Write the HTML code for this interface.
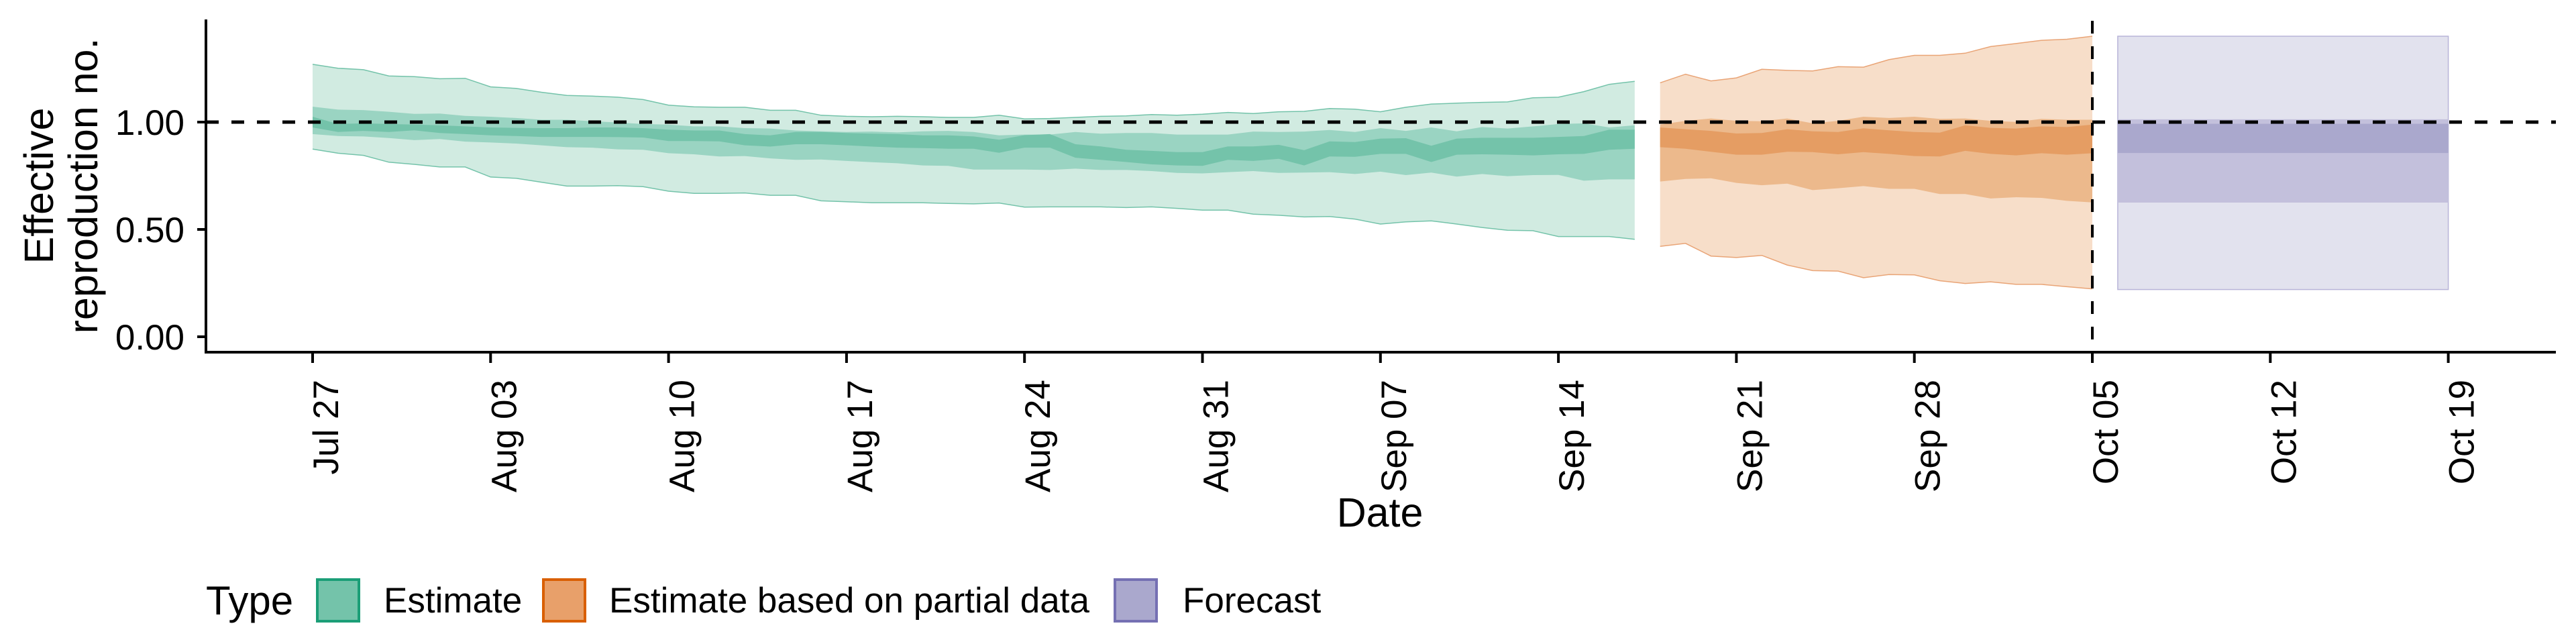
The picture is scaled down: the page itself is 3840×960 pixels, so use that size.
<!DOCTYPE html>
<html><head><meta charset="utf-8">
<style>
html,body{margin:0;padding:0;background:#fff;}
svg{display:block;font-family:"Liberation Sans",Arial,sans-serif;}
</style></head>
<body>
<svg id="chart" width="3840" height="960" viewBox="0 0 3840 960" xmlns="http://www.w3.org/2000/svg">
<g id="bands"></g>
<line x1="307" y1="182" x2="3810" y2="182" stroke="#000" stroke-width="5" stroke-dasharray="19,19"/>
<line x1="3119" y1="31" x2="3119" y2="525" stroke="#000" stroke-width="4" stroke-dasharray="19,19"/>
<line x1="307" y1="29" x2="307" y2="527" stroke="#000" stroke-width="4"/>
<line x1="305" y1="525" x2="3810" y2="525" stroke="#000" stroke-width="4"/>
<g id="yaxis"></g>
<g id="xaxis"></g>
<text transform="translate(79,277) rotate(-90)" text-anchor="middle" font-size="61">Effective</text>
<text transform="translate(145,277) rotate(-90)" text-anchor="middle" font-size="61">reproduction no.</text>
<text x="2057" y="785" text-anchor="middle" font-size="61">Date</text>
<g>
<text x="307" y="916" font-size="60">Type</text>
<rect x="473" y="864" width="62" height="62" fill="#74c3aa" stroke="#1b9e77" stroke-width="4"/>
<text x="572" y="913" font-size="53">Estimate</text>
<rect x="810" y="864" width="62" height="62" fill="#e8a06a" stroke="#d95f02" stroke-width="4"/>
<text x="908" y="913" font-size="53">Estimate based on partial data</text>
<rect x="1662" y="864" width="62" height="62" fill="#aaa8cd" stroke="#7570b3" stroke-width="4"/>
<text x="1763" y="913" font-size="53">Forecast</text>
</g>
</svg>
<script>
// ---- data ----
const tickLabels = ["Jul 27","Aug 03","Aug 10","Aug 17","Aug 24","Aug 31","Sep 07","Sep 14","Sep 21","Sep 28","Oct 05","Oct 12","Oct 19"];
const tickDays = [0,7,14,21,28,35,42,49,56,63,70,77,84];
const yTicks = [0,0.5,1.0];
const yTickLabels = ["0.00","0.50","1.00"];
const estStartDay = 0;
const gOuterHi = [1.269,1.251,1.244,1.215,1.212,1.202,1.204,1.164,1.157,1.139,1.124,1.121,1.116,1.105,1.079,1.071,1.069,1.069,1.055,1.055,1.032,1.027,1.025,1.027,1.025,1.022,
 1.022,1.032,1.015,1.017,1.022,1.027,1.029,1.035,1.032,1.037,1.045,1.040,1.048,1.050,1.063,1.060,1.048,1.069,1.084,1.088,1.092,1.094,1.113,1.116,1.142,1.176,1.190];
const gOuterLo = [0.874,0.855,0.845,0.813,0.803,0.791,0.791,0.744,0.738,0.720,0.702,0.702,0.704,0.699,0.678,0.668,0.668,0.670,0.659,0.659,0.633,0.629,0.624,0.624,0.624,0.621,
 0.619,0.623,0.604,0.605,0.605,0.605,0.602,0.605,0.598,0.590,0.590,0.571,0.566,0.558,0.560,0.548,0.525,0.535,0.540,0.525,0.509,0.496,0.494,0.467,0.467,0.467,0.454];
const gMidHi = [1.072,1.058,1.056,1.048,1.038,1.040,1.029,1.025,1.019,1.011,1.011,1.004,0.998,0.991,0.988,0.980,0.980,0.972,0.970,0.961,0.957,0.954,0.956,0.952,0.957,0.959,
 0.954,0.938,0.942,0.942,0.954,0.946,0.949,0.949,0.942,0.942,0.942,0.956,0.954,0.956,0.963,0.954,0.972,0.959,0.975,0.957,0.977,0.970,0.980,0.991,0.994,0.975,0.985];
const gMidLo = [0.944,0.935,0.933,0.926,0.916,0.921,0.909,0.905,0.900,0.892,0.883,0.881,0.873,0.871,0.855,0.850,0.840,0.842,0.831,0.824,0.826,0.819,0.813,0.808,0.798,0.796,
 0.779,0.779,0.779,0.777,0.783,0.777,0.777,0.772,0.763,0.761,0.767,0.772,0.763,0.765,0.767,0.758,0.769,0.753,0.765,0.746,0.758,0.748,0.753,0.754,0.727,0.733,0.733];
const gInHi = [1.025,0.991,0.994,0.991,0.988,0.985,0.980,0.975,0.973,0.972,0.972,0.975,0.975,0.972,0.965,0.961,0.961,0.944,0.938,0.954,0.954,0.949,0.946,0.944,0.938,0.938,
 0.933,0.918,0.939,0.944,0.897,0.887,0.871,0.866,0.860,0.860,0.887,0.887,0.894,0.869,0.910,0.907,0.923,0.925,0.890,0.923,0.927,0.927,0.927,0.931,0.935,0.965,0.965];
const gInLo = [0.975,0.954,0.959,0.954,0.962,0.949,0.944,0.938,0.935,0.931,0.931,0.931,0.930,0.928,0.912,0.912,0.910,0.892,0.886,0.897,0.897,0.892,0.886,0.881,0.879,0.876,
 0.876,0.857,0.881,0.881,0.834,0.824,0.814,0.803,0.798,0.796,0.824,0.819,0.829,0.798,0.840,0.838,0.852,0.852,0.814,0.848,0.850,0.848,0.845,0.850,0.852,0.871,0.876];
const partStartDay = 53;
const oOuterHi = [1.183,1.223,1.192,1.206,1.246,1.241,1.238,1.258,1.256,1.291,1.311,1.311,1.321,1.352,1.366,1.381,1.386,1.400];
const oOuterLo = [0.421,0.435,0.376,0.369,0.379,0.334,0.308,0.306,0.275,0.290,0.288,0.261,0.248,0.256,0.244,0.244,0.233,0.223];
const oMidHi = [0.988,1.006,1.017,1.006,1.004,1.017,0.994,1.006,1.025,1.019,1.025,1.015,1.017,1.006,1.001,1.015,1.011,1.011];
const oMidLo = [0.723,0.735,0.738,0.717,0.706,0.713,0.683,0.692,0.702,0.689,0.689,0.665,0.665,0.644,0.650,0.647,0.633,0.626];
const oInHi = [0.975,0.967,0.959,0.947,0.949,0.967,0.957,0.954,0.971,0.962,0.954,0.951,0.985,0.973,0.970,0.980,0.977,0.988];
const oInLo = [0.883,0.876,0.862,0.848,0.848,0.862,0.860,0.850,0.860,0.852,0.842,0.840,0.866,0.852,0.845,0.855,0.848,0.855];
const fDays = [71,84];
const fOuter = [0.22,1.40];
const fMid = [0.625,1.013];
const fIn = [0.856,0.992];

// ---- scales ----
const NS = "http://www.w3.org/2000/svg";
function xs(d){ return 466 + 37.9*d; }
function ys(v){ return 502 - 320*v; }

const bands = document.getElementById('bands');
function ribbon(start, hi, lo, fill, edge, name){
  let pts = [];
  for (let i=0;i<hi.length;i++) pts.push(xs(start+i).toFixed(1)+","+ys(hi[i]).toFixed(1));
  for (let i=lo.length-1;i>=0;i--) pts.push(xs(start+i).toFixed(1)+","+ys(lo[i]).toFixed(1));
  const p = document.createElementNS(NS,'polygon');
  p.setAttribute('points', pts.join(' '));
  p.setAttribute('fill', fill);
  
  
  bands.appendChild(p);
  if (edge){
    [hi,lo].forEach(function(arr){
      const l = document.createElementNS(NS,'polyline');
      l.setAttribute('points', arr.map(function(v,i){return xs(start+i).toFixed(1)+","+ys(v).toFixed(1);}).join(' '));
      l.setAttribute('fill','none');
      l.setAttribute('stroke', edge);
      l.setAttribute('stroke-width','1.5');
      
      
      bands.appendChild(l);
    });
  }
}
ribbon(estStartDay, gOuterHi, gOuterLo, '#d1ebe1', '#74c3aa', 'estimate-90-band');
ribbon(estStartDay, gMidHi, gMidLo, '#9ad4c2', null, 'estimate-50-band');
ribbon(estStartDay, gInHi, gInLo, '#74c3aa', null, 'estimate-20-band');
ribbon(partStartDay, oOuterHi, oOuterLo, '#f7dec9', '#e9a476', 'partial-90-band');
ribbon(partStartDay, oMidHi, oMidLo, '#ecb98c', null, 'partial-50-band');
ribbon(partStartDay, oInHi, oInLo, '#e59d63', null, 'partial-20-band');

function rect(lohi, fill, stroke, name){
  const r = document.createElementNS(NS,'rect');
  r.setAttribute('x', xs(fDays[0]));
  r.setAttribute('width', xs(fDays[1]) - xs(fDays[0]));
  r.setAttribute('y', ys(lohi[1]));
  r.setAttribute('height', ys(lohi[0]) - ys(lohi[1]));
  r.setAttribute('fill', fill);
  if (stroke){ r.setAttribute('stroke', stroke); r.setAttribute('stroke-width','1.5'); }
  
  
  bands.appendChild(r);
}
rect(fOuter, '#e2e2ee', '#b7b4d8', 'forecast-90-band');
rect(fMid, '#c3c0dc', null, 'forecast-50-band');
rect(fIn, '#aaa8cd', null, 'forecast-20-band');

const ya = document.getElementById('yaxis');
yTicks.forEach(function(v,i){
  const t = document.createElementNS(NS,'line');
  t.setAttribute('x1', 294); t.setAttribute('x2', 307);
  t.setAttribute('y1', ys(v)); t.setAttribute('y2', ys(v));
  t.setAttribute('stroke','#000'); t.setAttribute('stroke-width','4');
  
  
  ya.appendChild(t);
  const s = document.createElementNS(NS,'text');
  s.setAttribute('x', 275); s.setAttribute('y', ys(v)+19);
  s.setAttribute('text-anchor','end'); s.setAttribute('font-size','53');
  s.textContent = yTickLabels[i];
  
  
  ya.appendChild(s);
});
const xa = document.getElementById('xaxis');
tickDays.forEach(function(d,i){
  const x = xs(d);
  const t = document.createElementNS(NS,'line');
  t.setAttribute('x1', x); t.setAttribute('x2', x);
  t.setAttribute('y1', 525); t.setAttribute('y2', 541);
  t.setAttribute('stroke','#000'); t.setAttribute('stroke-width','4');
  
  
  xa.appendChild(t);
  const s = document.createElementNS(NS,'text');
  s.setAttribute('transform', 'translate(' + (x+38) + ',566) rotate(-90)');
  s.setAttribute('text-anchor','end'); s.setAttribute('font-size','53');
  s.textContent = tickLabels[i];
  
  
  xa.appendChild(s);
});
</script>
</body></html>
